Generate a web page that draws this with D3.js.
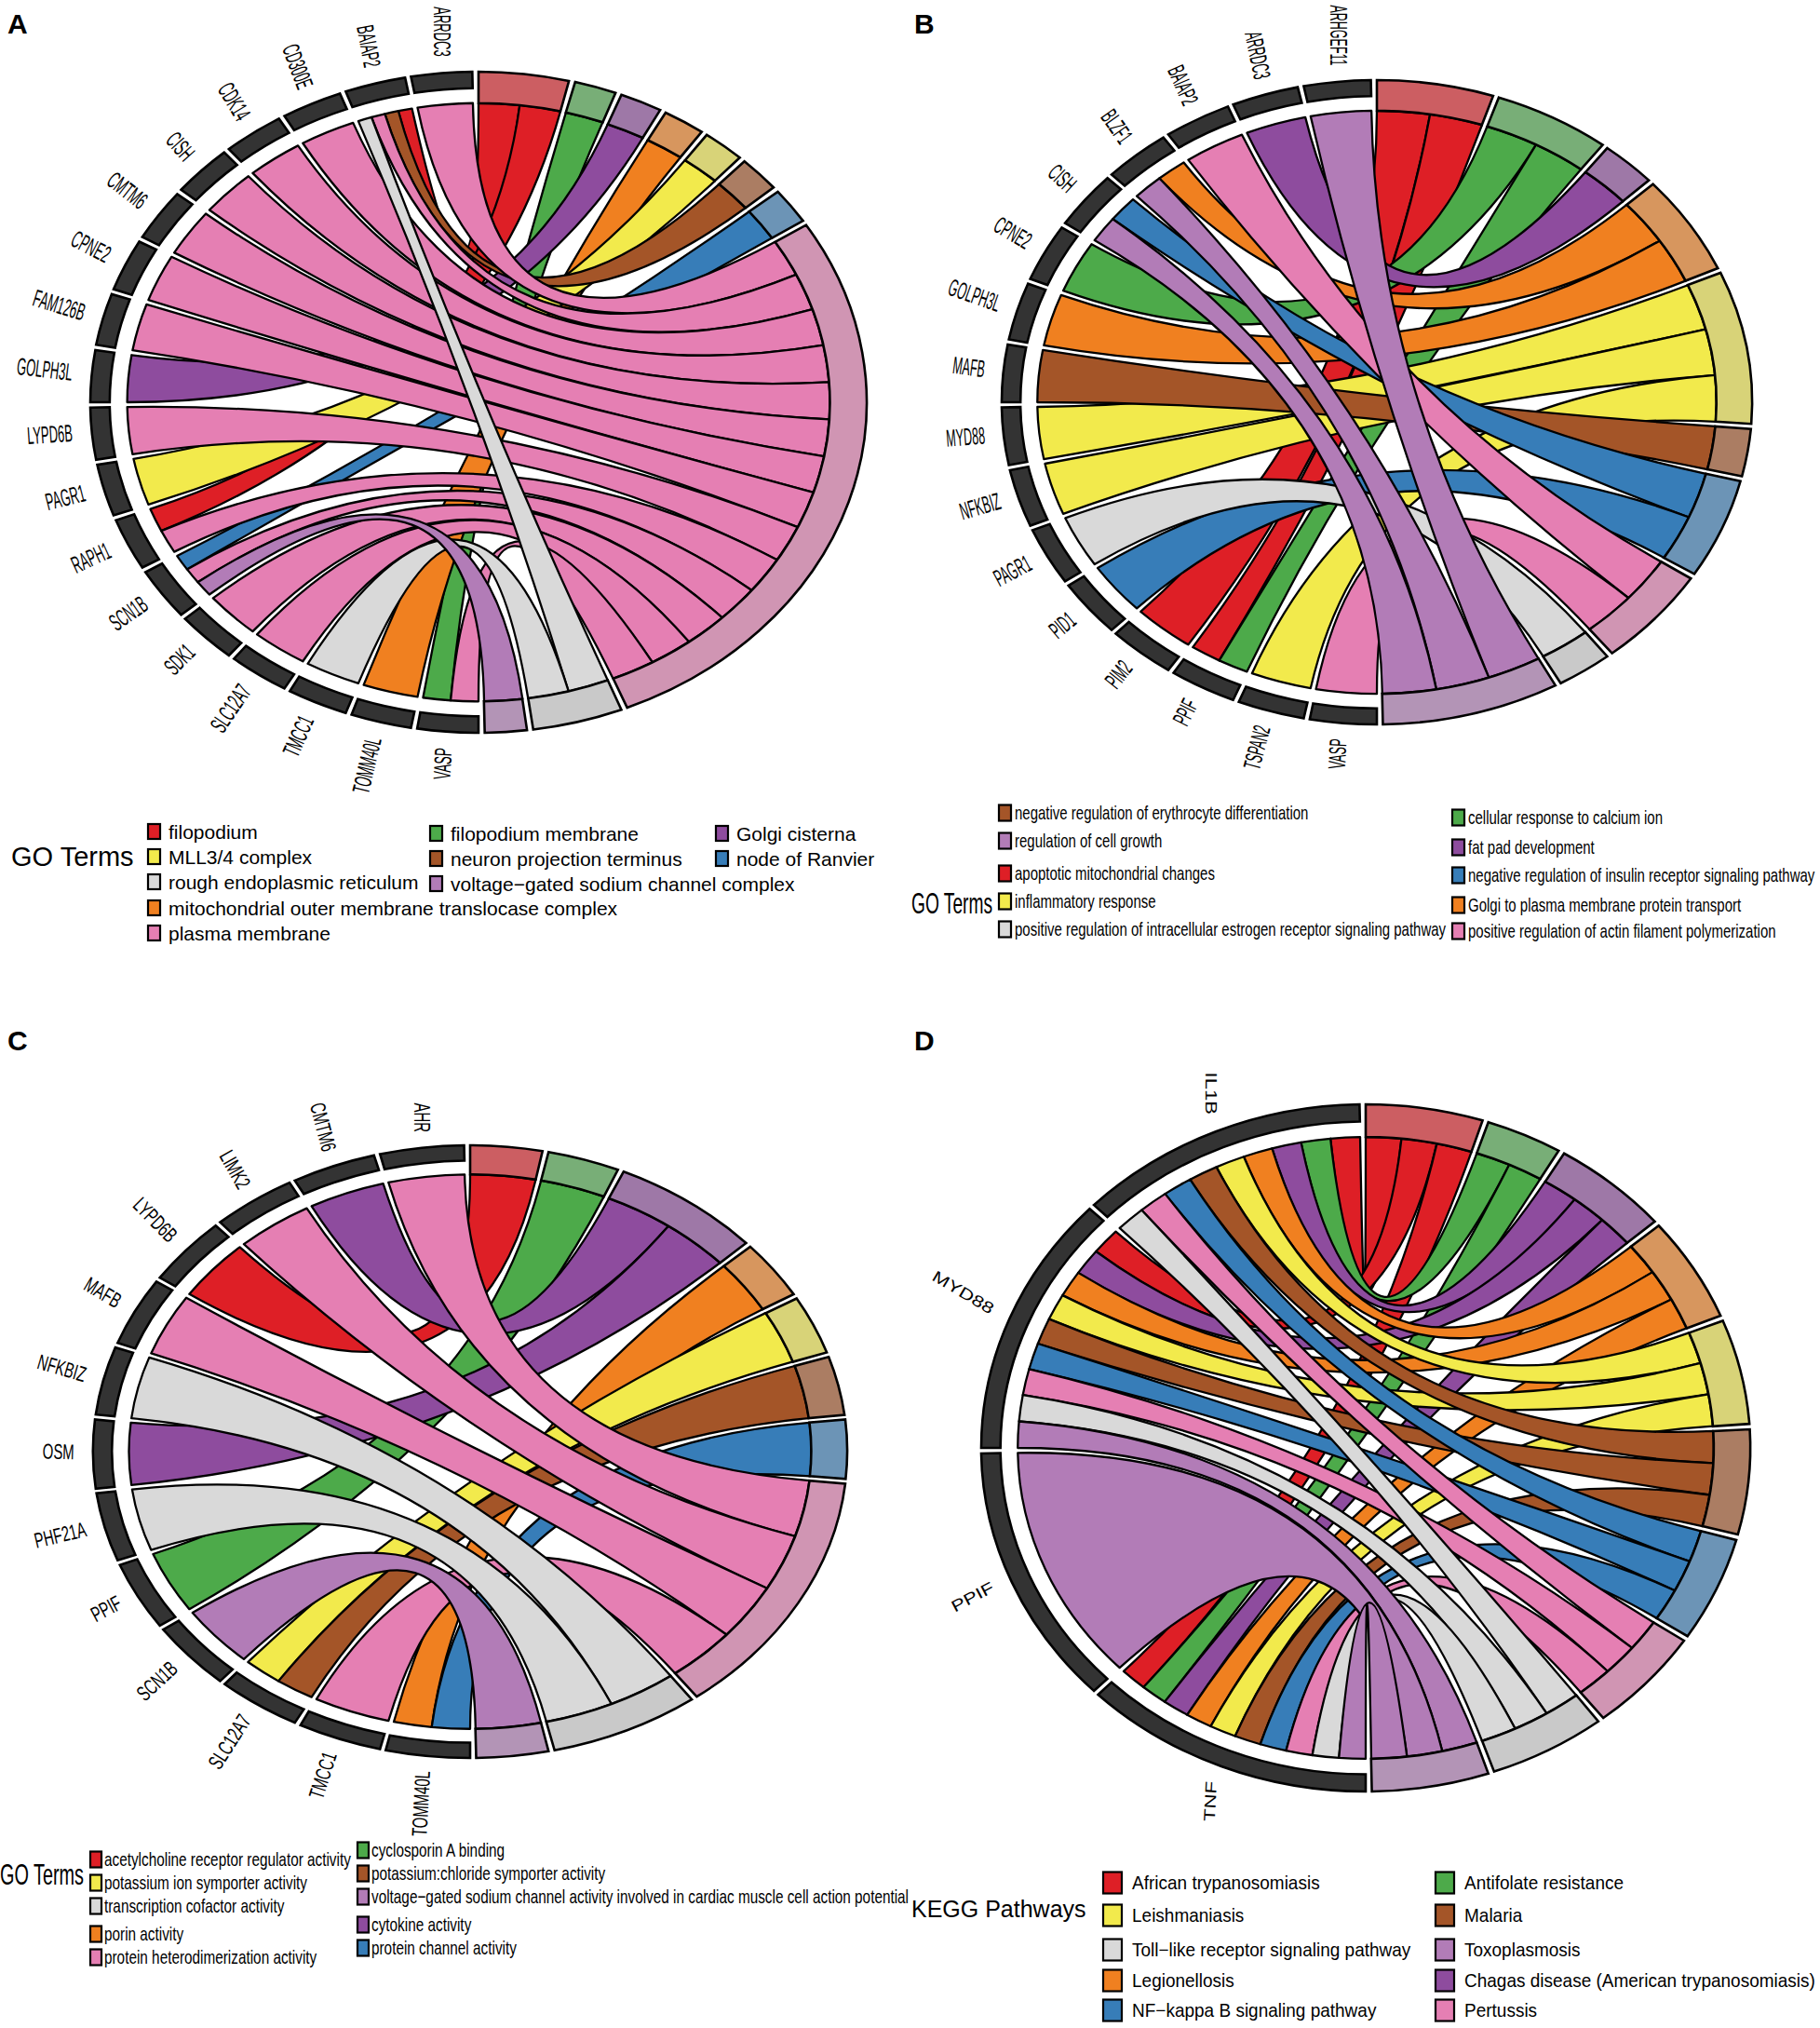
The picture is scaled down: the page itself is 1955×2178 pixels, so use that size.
<!DOCTYPE html>
<html>
<head>
<meta charset="utf-8">
<script src="https://cdn.jsdelivr.net/npm/d3@7"></script>
<style>
  body { margin: 0; background: #fff; }
  text { font-family: "Liberation Sans", Arial, Helvetica, sans-serif; fill: #000; }
</style>
</head>
<body>
<div id="figure"></div>
<script>
const W = 1955, H = 2178;

// ribbon colours, one per term position (terms are alphabetical in every panel)
const ribbonCols = ["#DE1F26", "#4DAA4A", "#8E4C9E", "#F08020", "#F2EA4C",
                    "#A45528", "#377DB8", "#E57FB3", "#D9D9D9", "#B27CB7"];

// ---- Panel A : GO cellular component ----
const genesA = ["ARRDC3", "BAIAP2", "CD300E", "CDK14", "CISH", "CMTM6", "CPNE2", "FAM126B",
  "GOLPH3L", "LYPD6B", "PAGR1", "RAPH1", "SCN1B", "SDK1", "SLC12A7", "TMCC1", "TOMM40L", "VASP"];
const termsA = ["filopodium", "filopodium membrane", "Golgi cisterna",
  "mitochondrial outer membrane translocase complex", "MLL3/4 complex",
  "neuron projection terminus", "node of Ranvier", "plasma membrane",
  "rough endoplasmic reticulum", "voltage\u2212gated sodium channel complex"];
// term indices linked to each gene
const linksA = [[7], [0, 5, 7, 8], [7], [7], [7], [7], [7], [7],
  [2], [7], [4], [0, 7], [6, 7, 9], [7], [7], [8], [3], [1, 7]];

// ---- Panel B : GO biological process ----
const genesB = ["ARHGEF11", "ARRDC3", "BAIAP2", "BLZF1", "CISH", "CPNE2", "GOLPH3L", "MAFB",
  "MYD88", "NFKBIZ", "PAGR1", "PID1", "PIM2", "PPIF", "TSPAN2", "VASP"];
const termsB = ["apoptotic mitochondrial changes", "cellular response to calcium ion",
  "fat pad development", "Golgi to plasma membrane protein transport", "inflammatory response",
  "negative regulation of erythrocyte differentiation",
  "negative regulation of insulin receptor signaling pathway",
  "positive regulation of actin filament polymerization",
  "positive regulation of intracellular estrogen receptor signaling pathway",
  "regulation of cell growth"];
const linksB = [[9], [2], [7], [3, 9], [6, 9], [1], [3], [5],
  [4], [4], [8], [6], [0], [0, 1], [4], [7]];

// ---- Panel C : GO molecular function ----
const genesC = ["AHR", "CMTM6", "LIMK2", "LYPD6B", "MAFB", "NFKBIZ", "OSM", "PHF21A",
  "PPIF", "SCN1B", "SLC12A7", "TMCC1", "TOMM40L"];
const termsC = ["acetylcholine receptor regulator activity", "cyclosporin A binding",
  "cytokine activity", "porin activity", "potassium ion symporter activity",
  "potassium:chloride symporter activity", "protein channel activity",
  "protein heterodimerization activity", "transcription cofactor activity",
  "voltage\u2212gated sodium channel activity involved in cardiac muscle cell action potential"];
const linksC = [[7], [2], [7], [0], [7], [8], [2], [8], [1], [9], [4, 5], [7], [3, 6]];

// ---- Panel D : KEGG pathways ----
const genesD = ["IL1B", "MYD88", "PPIF", "TNF"];
const termsD = ["African trypanosomiasis", "Antifolate resistance",
  "Chagas disease (American trypanosomiasis)", "Legionellosis", "Leishmaniasis", "Malaria",
  "NF\u2212kappa B signaling pathway", "Pertussis", "Toll\u2212like receptor signaling pathway",
  "Toxoplasmosis"];
const linksD = [[0, 1, 2, 3, 4, 5, 6, 7, 8], [0, 2, 3, 4, 5, 6, 7, 8, 9], [9],
  [0, 1, 2, 3, 4, 5, 6, 7, 8, 9]];

// legend layouts (box left / row centre for each term)
const legendA = { title: "GO Terms", tx: 12, ty: 920, tsize: 29, tsx: 1.0, size: 21, sx: 1.0,
  bw: 13, bh: 16, gap: 9,
  pos: [[159, 893], [462, 895], [769, 895], [159, 975], [159, 920], [462, 922], [769, 922],
        [159, 1002], [159, 947], [462, 949]] };
const legendB = { title: "GO Terms", tx: 979, ty: 970, tsize: 32, tsx: 0.6, size: 20, sx: 0.75,
  bw: 13, bh: 17, gap: 4,
  pos: [[1073, 938], [1560, 878], [1560, 910], [1560, 972], [1073, 968], [1073, 873],
        [1560, 940], [1560, 1000], [1073, 998], [1073, 903]] };
const legendC = { title: "GO Terms", tx: 0, ty: 2013, tsize: 32, tsx: 0.62, size: 21, sx: 0.73,
  bw: 12, bh: 17, gap: 3,
  pos: [[97, 1997], [384, 1987], [384, 2067], [97, 2077], [97, 2022], [384, 2012],
        [384, 2092], [97, 2102], [97, 2047], [384, 2037]] };
const legendD = { title: "KEGG Pathways", tx: 979, ty: 2050, tsize: 25, tsx: 1.0, size: 20, sx: 0.95,
  bw: 20, bh: 23, gap: 11,
  pos: [[1185, 2022], [1542, 2022], [1542, 2127], [1185, 2127], [1185, 2057], [1542, 2057],
        [1185, 2159], [1542, 2159], [1185, 2094], [1542, 2094]] };

const panels = [
  { tag: "A", lx: 8, ly: 36, genes: genesA, terms: termsA, links: linksA,
    cx: 514, cy: 432, rx: 417, ry: 355, lab: { size: 26, sx: 0.5 }, legend: legendA },
  { tag: "B", lx: 982, ly: 36, genes: genesB, terms: termsB, links: linksB,
    cx: 1479, cy: 432, rx: 403, ry: 346, lab: { size: 26, sx: 0.48 }, legend: legendB },
  { tag: "C", lx: 8, ly: 1128, genes: genesC, terms: termsC, links: linksC,
    cx: 505, cy: 1559, rx: 405, ry: 329, lab: { size: 23, sx: 0.65 }, legend: legendC },
  { tag: "D", lx: 982, ly: 1128, genes: genesD, terms: termsD, links: linksD,
    cx: 1467, cy: 1555, rx: 413, ry: 369, lab: { size: 17, sx: 1.3 }, legend: legendD }
];

// radii in unit coordinates (outer ring edge = 1)
const R_RIB = 0.905, R_GENE = 0.95, R_OUT = 1.0, R_LAB = 1.05;
const space = 0.016;

const svg = d3.select("#figure")
  .append("svg")
  .attr("width", W)
  .attr("height", H);
svg.append("rect").attr("width", W).attr("height", H).attr("fill", "#fff");

const ringCol = c => d3.interpolateRgb(c, "#b4b4b4")(0.42);

function drawChord(p) {
  const N = p.genes.length;
  const nrib = p.terms.map((t, j) => p.links.filter(l => l.includes(j)).length);
  const T = d3.sum(nrib);

  const termScale = d3.scaleLinear().domain([0, T]).range([0, Math.PI]);
  const geneScale = d3.scaleLinear().domain([0, N]).range([0, -Math.PI]);

  let acc = 0;
  const termArcs = nrib.map((c, j) => {
    const a = { a0: termScale(acc), a1: termScale(acc + c) - space, n: c, j: j };
    acc += c;
    return a;
  });
  const geneArcs = p.genes.map((g, i) => ({ a0: geneScale(i + 1), a1: geneScale(i) - space, i: i }));

  // ribbons: gene slots split equally, term slots split equally
  const used = nrib.map(() => 0);
  const ribs = [];
  p.links.forEach((terms, i) => {
    const ga = geneArcs[i];
    const w = (ga.a1 - ga.a0) / terms.length;
    terms.forEach((j, k) => {
      const hi = ga.a1 - k * w, lo = hi - w;
      const ta = termArcs[j];
      const tw = (ta.a1 - ta.a0) / ta.n;
      const t0 = ta.a0 + used[j] * tw;
      used[j] += 1;
      ribs.push({ term: j, gene: i,
        source: { startAngle: lo, endAngle: hi },
        target: { startAngle: t0, endAngle: t0 + tw } });
    });
  });
  ribs.sort((a, b) => a.term - b.term || a.gene - b.gene);

  const g = svg.append("g")
    .attr("transform", `translate(${p.cx},${p.cy}) scale(${p.rx},${p.ry})`);

  const ribbon = d3.ribbon().radius(R_RIB);
  g.selectAll(".rib")
    .data(ribs).enter()
    .append("path")
    .attr("class", "rib")
    .attr("d", ribbon)
    .attr("fill", d => ribbonCols[d.term])
    .attr("stroke", "#000")
    .attr("stroke-width", 2.3)
    .attr("stroke-linejoin", "round")
    .attr("vector-effect", "non-scaling-stroke");

  const termArc = d3.arc().innerRadius(R_RIB).outerRadius(R_OUT)
    .startAngle(d => d.a0).endAngle(d => d.a1);
  g.selectAll(".term")
    .data(termArcs).enter()
    .append("path")
    .attr("d", termArc)
    .attr("fill", d => ringCol(ribbonCols[d.j]))
    .attr("stroke", "#000")
    .attr("stroke-width", 2.6)
    .attr("vector-effect", "non-scaling-stroke");

  const geneArc = d3.arc().innerRadius(R_GENE).outerRadius(R_OUT)
    .startAngle(d => d.a0).endAngle(d => d.a1);
  g.selectAll(".gene")
    .data(geneArcs).enter()
    .append("path")
    .attr("d", geneArc)
    .attr("fill", "#333333")
    .attr("stroke", "#000")
    .attr("stroke-width", 2.6)
    .attr("vector-effect", "non-scaling-stroke");

  // gene labels, rotation stepping from vertical (top) to vertical (bottom)
  const rot = d3.scaleLinear().domain([0, Math.max(N - 1, 1)]).range([90, -87]);
  svg.selectAll(null)
    .data(geneArcs).enter()
    .append("text")
    .attr("transform", d => {
      const a = (d.a0 + d.a1 + space) / 2;
      const x = p.cx + p.rx * R_LAB * Math.sin(a);
      const y = p.cy - p.ry * R_LAB * Math.cos(a);
      return `translate(${x},${y}) rotate(${rot(d.i)}) scale(${p.lab.sx},1)`;
    })
    .attr("text-anchor", "end")
    .attr("dominant-baseline", "central")
    .attr("font-size", p.lab.size)
    .text(d => p.genes[d.i]);

  // panel letter
  svg.append("text")
    .attr("x", p.lx).attr("y", p.ly)
    .attr("font-size", 30).attr("font-weight", "bold")
    .text(p.tag);

  // legend
  const L = p.legend;
  svg.append("text")
    .attr("transform", `translate(${L.tx},${L.ty}) scale(${L.tsx},1)`)
    .attr("dominant-baseline", "central")
    .attr("font-size", L.tsize)
    .text(L.title);
  const items = svg.selectAll(null)
    .data(p.terms.map((t, j) => ({ t: t, j: j }))).enter()
    .append("g")
    .attr("transform", d => `translate(${L.pos[d.j][0]},${L.pos[d.j][1]})`);
  items.append("rect")
    .attr("x", 0).attr("y", -L.bh / 2)
    .attr("width", L.bw).attr("height", L.bh)
    .attr("fill", d => ribbonCols[d.j])
    .attr("stroke", "#000").attr("stroke-width", 2.2);
  items.append("text")
    .attr("transform", `translate(${L.bw + L.gap},0) scale(${L.sx},1)`)
    .attr("dominant-baseline", "central")
    .attr("font-size", L.size)
    .text(d => d.t);
}

panels.forEach(drawChord);
</script>
</body>
</html>
